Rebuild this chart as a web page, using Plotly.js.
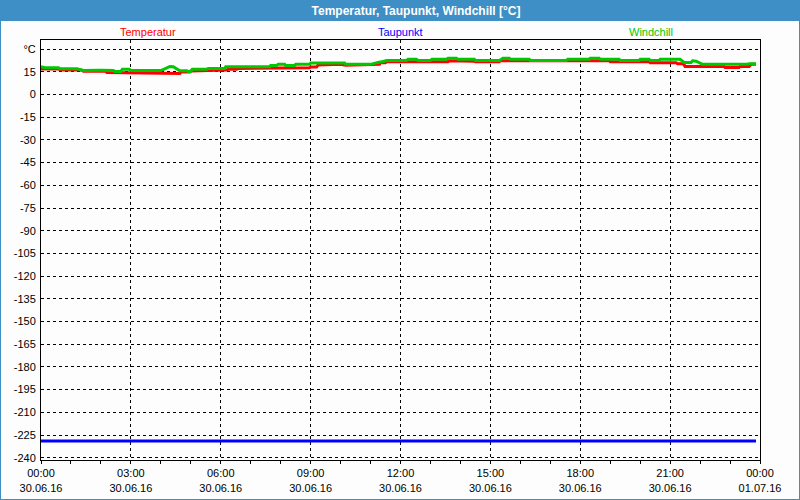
<!DOCTYPE html>
<html>
<head>
<meta charset="utf-8">
<script src="https://cdn.plot.ly/plotly-3.0.1.min.js"></script>
<style>
  html, body { margin: 0; padding: 0; background: #fcfdfc; }
  #chart { width: 800px; height: 500px; }
</style>
</head>
<body>
<div id="chart"></div>
<script>
const day = "2016-06-30";
const tempTimes = ["00:00","00:35","00:40","01:20","01:25","02:10","02:12","02:50","02:55","04:38","04:40","04:58","05:00","05:32","05:35","06:12","06:15","06:32","06:35","08:18","08:20","08:58","09:00","09:12","09:15","09:58","10:00","10:10","10:58","11:00","11:18","11:20","11:30","11:33","13:35","13:38","13:48","13:50","14:28","14:30","15:18","15:20","16:18","16:20","17:32","17:35","18:58","19:00","20:18","20:20","21:12","21:15","21:25","21:28","21:30","22:48","22:50","23:18","23:20","23:38","23:42","23:52"];
const tempValues = [16.8,16.8,16.2,16.2,15.4,15.4,14.5,14.4,13.9,13.9,14.8,14.8,15.6,15.7,16.2,16.2,16.6,16.6,17.2,17.2,17.7,17.7,18.1,18.1,19.5,19.5,20.0,19.3,19.6,19.9,19.9,21.0,21.0,21.7,21.7,22.3,22.3,21.9,21.9,21.7,21.7,22.3,22.3,21.9,21.9,22.3,22.3,21.7,21.7,21.0,21.0,20.3,20.3,19.7,18.5,18.5,17.9,17.9,18.5,18.5,19.9,19.9];

const chillTimes = ["00:00","00:08","00:35","00:38","01:12","01:20","01:25","02:00","02:08","02:25","02:28","02:40","02:43","02:57","03:00","04:00","04:10","04:18","04:25","04:32","04:38","04:52","04:55","05:00","05:03","05:32","05:35","06:08","06:10","07:38","07:40","07:52","07:55","08:08","08:10","08:28","08:30","08:58","09:00","10:08","10:10","11:00","11:05","11:15","11:25","11:33","12:12","12:15","12:32","12:35","13:00","13:03","13:32","13:35","13:52","13:55","14:28","14:30","15:18","15:22","15:25","15:38","15:40","16:18","16:20","17:32","17:35","18:18","18:20","18:38","18:40","19:18","19:20","19:58","20:00","20:18","20:20","20:38","20:40","21:20","21:25","21:28","21:42","21:45","21:52","22:00","22:05","23:35","23:38","23:52"];
const chillValues = [18.3,17.7,17.7,17.0,17.0,16.4,15.9,16.0,15.9,15.9,15.2,15.2,16.6,16.6,15.8,15.8,17.3,18.5,18.3,17.0,15.7,15.7,15.2,15.2,16.6,16.6,17.2,17.2,18.3,18.3,19.2,19.2,19.9,19.9,19.2,19.2,19.9,19.9,20.8,20.8,19.9,19.9,20.5,21.2,21.8,22.5,22.5,23.2,23.2,22.5,22.5,23.2,23.2,23.9,23.9,23.2,23.2,22.5,22.5,23.2,23.9,23.9,23.2,23.2,22.5,22.5,23.2,23.2,23.9,23.9,23.2,23.2,22.5,22.5,23.2,23.2,22.5,22.5,23.2,23.2,22.3,21.2,21.2,22.3,22.0,20.5,19.9,19.9,20.3,20.3];

const dewTimes = ["00:00","23:52"];
const dewValues = [-229,-229];

const yTickVals = [30,15,0,-15,-30,-45,-60,-75,-90,-105,-120,-135,-150,-165,-180,-195,-210,-225,-240];
const yTickText = ["°C","15","0","-15","-30","-45","-60","-75","-90","-105","-120","-135","-150","-165","-180","-195","-210","-225","-240"];
const seriesNames = ["Temperatur","Taupunkt","Windchill"];
const seriesColors = ["#ff0000","#0000ff","#00c800"];

const toDate = t => day + " " + t;

const traces = [
  {x: tempTimes.map(toDate), y: tempValues, name: seriesNames[0], mode: "lines", line: {color: seriesColors[0], width: 3}},
  {x: dewTimes.map(toDate), y: dewValues, name: seriesNames[1], mode: "lines", line: {color: seriesColors[1], width: 3}},
  {x: chillTimes.map(toDate), y: chillValues, name: seriesNames[2], mode: "lines", line: {color: seriesColors[2], width: 3}}
];

// plot area: left 41, right 760, top 40, bottom 460
const L = 41, R = 760, T = 40, B = 460, W = 800, H = 500;
const px = x => (x - L) / (R - L);
const py = y => (B - y) / (B - T);
const barColor = "#3d8fc6";
const font = "Liberation Sans, Arial, sans-serif";

const legendX = [148, 400, 651];
const annotations = seriesNames.map((n, i) => ({
  text: n, xref: "paper", yref: "paper", x: px(legendX[i]), y: py(32),
  xanchor: "center", yanchor: "middle", showarrow: false,
  font: {family: font, size: 11, color: seriesColors[i]}
}));

const layout = {
  width: W, height: H,
  margin: {l: L, r: W - R, t: T, b: H - B, pad: 0},
  paper_bgcolor: "#fcfdfc",
  plot_bgcolor: "#fcfdfc",
  showlegend: false,
  title: {
    text: "Temperatur, Taupunkt, Windchill [°C]",
    font: {family: font, size: 12, color: "#ffffff", weight: "bold"},
    xref: "container", yref: "container", x: 416 / W, y: 1 - 10.5 / H,
    xanchor: "center", yanchor: "middle"
  },
  xaxis: {
    type: "date",
    range: [day + " 00:00", "2016-07-01 00:00"],
    tick0: day + " 00:00", dtick: 3 * 3600 * 1000,
    tickformat: "%H:%M<br>%d.%m.%y",
    showline: true, linecolor: "#000", linewidth: 1, mirror: true,
    ticks: "outside", ticklen: 3, tickcolor: "#000",
    minor: {dtick: 3600 * 1000, ticks: "outside", ticklen: 3, tickcolor: "#000", showgrid: false},
    showgrid: true, gridcolor: "#000", gridwidth: 1, griddash: "3px,3px",
    zeroline: false,
    tickfont: {family: font, size: 11, color: "#000"}
  },
  yaxis: {
    range: [-241.5, 36],
    tickmode: "array", tickvals: yTickVals, ticktext: yTickText,
    showline: true, linecolor: "#000", linewidth: 1, mirror: true,
    ticks: "", ticklabelstandoff: 2,
    showgrid: true, gridcolor: "#000", gridwidth: 1, griddash: "3px,3px",
    zeroline: false,
    tickfont: {family: font, size: 11, color: "#000"}
  },
  annotations: annotations,
  shapes: [
    {type: "rect", xref: "paper", yref: "paper", layer: "below",
     x0: px(0), x1: px(W), y0: py(21), y1: py(0),
     fillcolor: barColor, line: {width: 0}},
    {type: "rect", xref: "paper", yref: "paper", layer: "below",
     x0: px(0), x1: px(1), y0: py(H), y1: py(0),
     fillcolor: barColor, line: {width: 0}},
    {type: "rect", xref: "paper", yref: "paper", layer: "below",
     x0: px(W - 1), x1: px(W), y0: py(H), y1: py(0),
     fillcolor: barColor, line: {width: 0}},
    {type: "rect", xref: "paper", yref: "paper", layer: "below",
     x0: px(0), x1: px(W), y0: py(H), y1: py(H - 1),
     fillcolor: barColor, line: {width: 0}}
  ]
};

Plotly.newPlot("chart", traces, layout, {staticPlot: true, displayModeBar: false});
</script>
</body>
</html>
